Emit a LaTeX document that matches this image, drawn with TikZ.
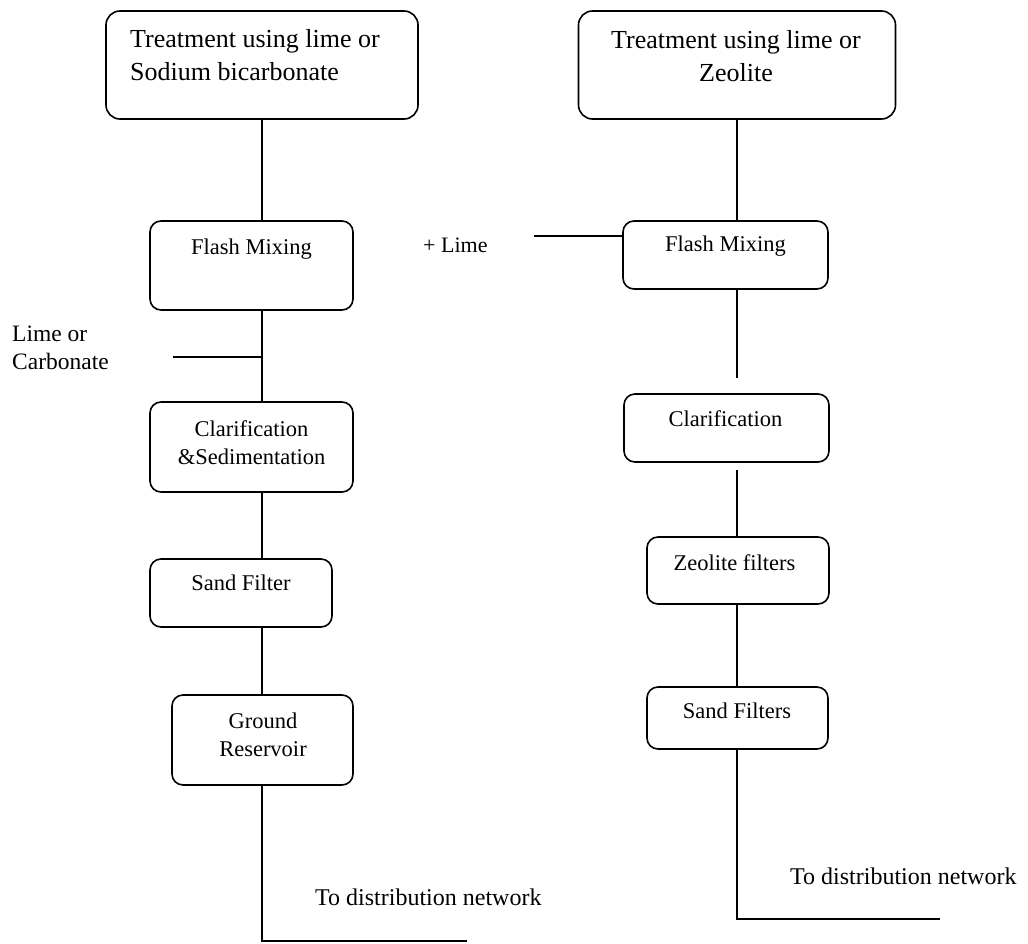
\documentclass[tikz,border=0pt]{standalone}
\usepackage{fontspec}
\setmainfont{Liberation Serif}
\begin{document}
\begin{tikzpicture}[x=1pt,y=-1pt,
  box/.style={draw, line width=1.6pt, rounded corners=11pt, inner sep=0pt},
  conn/.style={line width=1.6pt},
  big/.style={font=\fontsize{26}{33}\selectfont, inner sep=0pt},
  txt/.style={font=\fontsize{22.5}{28}\selectfont, inner sep=0pt, align=center},
  lbl/.style={font=\fontsize{23.5}{28}\selectfont, inner sep=0pt, align=left}]
\useasboundingbox (0,0) rectangle (1028,943);

% ---------- left column ----------
\node[box, rounded corners=14pt, minimum width=312pt, minimum height=108pt] (L1) at (262,65) {};
\node[big, anchor=north west, align=left] (L1t) at (130,29) {Treatment using lime or\\Sodium bicarbonate};

\node[box, minimum width=203pt, minimum height=89pt] (FL) at (251.5,265.5) {};
\node[txt, anchor=north] (FLt) at (251.5,239) {Flash Mixing};

\node[box, minimum width=203pt, minimum height=90pt] (CL) at (251.5,447) {};
\node[txt, anchor=north] (CLt) at (251.5,420) {Clarification\\\&Sedimentation};

\node[box, minimum width=182pt, minimum height=68pt] (SL) at (241,593) {};
\node[txt, anchor=north] (SLt) at (241,575) {Sand Filter};

\node[box, minimum width=181pt, minimum height=90pt] (GL) at (262.5,740) {};
\node[txt, anchor=north] (GLt) at (263,713) {Ground\\Reservoir};

\coordinate (limeL) at (173,357);
\node[lbl, anchor=north west] (limeLt) at (12,326) {Lime or\\Carbonate};

\coordinate (outL) at (467,941);
\node[font=\fontsize{24}{28}\selectfont, inner sep=0pt, anchor=north west] (outLt) at (315,889) {To distribution network};

\draw[conn] (L1.south) -- (L1.south |- FL.north);
\draw[conn] (L1.south |- FL.south) -- (L1.south |- CL.north);
\draw[conn] (limeL) -- (limeL -| L1.south);
\draw[conn] (L1.south |- CL.south) -- (L1.south |- SL.north);
\draw[conn] (L1.south |- SL.south) -- (L1.south |- GL.north);
\draw[conn] (L1.south |- GL.south) -- (L1.south |- outL) -- (outL);

% ---------- right column ----------
\node[box, rounded corners=14pt, minimum width=317pt, minimum height=108pt] (R1) at (737,65) {};
\node[big, anchor=north, align=center] (R1t) at (736,30) {Treatment using lime or\\Zeolite};

\node[box, minimum width=205pt, minimum height=68pt] (FR) at (725.5,255) {};
\node[txt, anchor=north] (FRt) at (725.5,236) {Flash Mixing};

\node[box, minimum width=205pt, minimum height=68pt] (CR) at (726.5,428) {};
\node[txt, anchor=north] (CRt) at (725.5,410) {Clarification};

\node[box, minimum width=182pt, minimum height=67pt] (ZR) at (738,570.5) {};
\node[txt, anchor=north] (ZRt) at (734.5,554) {Zeolite filters};

\node[box, minimum width=181pt, minimum height=62pt] (SR) at (737.5,718) {};
\node[txt, anchor=north] (SRt) at (737,703) {Sand Filters};

\coordinate (limeR) at (534,236);
\node[font=\fontsize{22}{26}\selectfont, inner sep=0pt, anchor=west] (limeRt) at (423,245) {+ Lime};

\coordinate (gapA) at (737,378);
\coordinate (gapB) at (737,470);
\coordinate (outR) at (940,919);
\node[font=\fontsize{24}{28}\selectfont, inner sep=0pt, anchor=north west] (outRt) at (790,868) {To distribution network};

\draw[conn] (R1.south) -- (R1.south |- FR.north);
\draw[conn] (limeR) -- (limeR -| FR.west);
\draw[conn] (R1.south |- FR.south) -- (gapA);
\draw[conn] (gapB) -- (gapB |- ZR.north);
\draw[conn] (R1.south |- ZR.south) -- (R1.south |- SR.north);
\draw[conn] (R1.south |- SR.south) -- (R1.south |- outR) -- (outR);
\end{tikzpicture}
\end{document}
